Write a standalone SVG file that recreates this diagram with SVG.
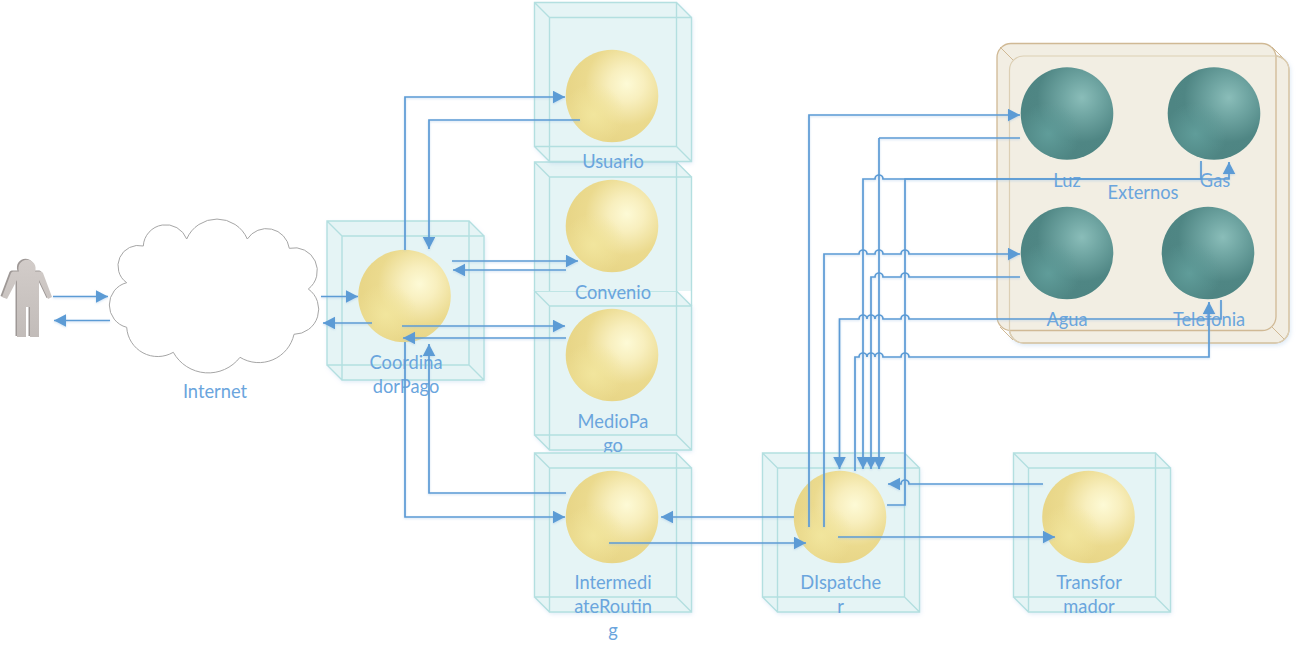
<svg xmlns="http://www.w3.org/2000/svg" xmlns:xlink="http://www.w3.org/1999/xlink" width="1296" height="652" viewBox="0 0 1296 652">
<style>
text{font-family:"Lato","Liberation Sans",sans-serif;font-size:18.3px;fill:#6AA5DD;text-anchor:middle}
.bf{fill:#E5F4F5;stroke:none}
.bl{fill:none;stroke:#B3DFE0;stroke-width:1.4}
.c{fill:none;stroke:#5B9BD5;stroke-width:1.7;marker-end:url(#a)}
.n{fill:none;stroke:#5B9BD5;stroke-width:1.7}
</style>
<defs>
<marker id="a" markerUnits="userSpaceOnUse" markerWidth="13" markerHeight="13" refX="12" refY="6.25" orient="auto"><path d="M0 0L12 6.25L0 12.5z" fill="#5B9BD5"/></marker>
<filter id="s" x="-10%" y="-10%" width="125%" height="125%"><feDropShadow dx="1" dy="2" stdDeviation="2" flood-color="#9CC2E5" flood-opacity=".35"/></filter>
<filter id="g" x="-5%" y="-5%" width="110%" height="110%"><feDropShadow dx="0" dy="1" stdDeviation="1" flood-color="#9CC2E5" flood-opacity=".5"/></filter>
<linearGradient id="p" x1="0" y1="0" x2="0" y2="1"><stop offset="0" stop-color="#D2CCC9"/><stop offset="1" stop-color="#C2BCB9"/></linearGradient>
<radialGradient id="y1" cx=".66" cy=".37" r=".62"><stop offset="0" stop-color="#FDFAD6"/><stop offset=".3" stop-color="#F8EFBE"/><stop offset=".72" stop-color="#EBDA8E"/><stop offset="1" stop-color="#E8D688"/></radialGradient>
<radialGradient id="y2" cx=".3" cy=".7" r=".34"><stop offset="0" stop-color="#F2E69E" stop-opacity=".95"/><stop offset="1" stop-color="#F2E69E" stop-opacity="0"/></radialGradient>
<radialGradient id="t1" cx=".66" cy=".33" r=".6"><stop offset="0" stop-color="#8ABDB9"/><stop offset=".35" stop-color="#6FA5A2"/><stop offset=".8" stop-color="#4F8684"/><stop offset="1" stop-color="#4E8583"/></radialGradient>
<radialGradient id="t2" cx=".3" cy=".72" r=".34"><stop offset="0" stop-color="#619E9B" stop-opacity=".95"/><stop offset="1" stop-color="#619E9B" stop-opacity="0"/></radialGradient>
<g id="ys"><circle r="46.3" fill="url(#y1)"/><circle r="46.3" fill="url(#y2)"/></g>
<g id="ts"><circle r="46.3" fill="url(#t1)"/><circle r="46.3" fill="url(#t2)"/></g>
<path id="man" d="M19 271.5a8.6 8.6 0 1 1 16 0H40Q42 271 43 273L52 297 48 299 39 280V337H30V307H26V337H17V280L7 299 2 297 11 273Q12 271 14 271.5z"/>
<g id="box">
<path class="bf" filter="url(#s)" d="M0 0H142L157 15V159H15L0 144z"/>
<path class="bl" d="M0 0H142V144H0zM15 15H157V159H15zM0 0L15 15M142 0L157 15M0 144L15 159M142 144L157 159"/>
</g>
</defs>

<g id="person">
<use xlink:href="#man" href="#man" x="-1.5" y="-1" fill="#9E9896"/>
<use xlink:href="#man" href="#man" fill="url(#p)"/>
</g>

<g id="internet">
<path fill="#fff" stroke="#A6A6A6" stroke-width="1" d="M126.7 282.7A20.5 20.5 0 0 1 143.3 246A22.5 22.5 0 0 1 186.7 239A33 33 0 0 1 247.3 239A23 23 0 0 1 289.3 248.3A23 23 0 0 1 308.3 289A25 25 0 0 1 294 334.3A36 36 0 0 1 240 357.3A40 40 0 0 1 173.3 352.3A31 31 0 0 1 126.7 327.3A23 23 0 0 1 126.7 282.7z"/>
<text x="215" y="397.5">Internet</text>
</g>

<g id="mediopago">
<use xlink:href="#box" href="#box" x="534.5" y="291"/>
<use xlink:href="#ys" href="#ys" x="612" y="355"/>
<text x="613" y="427.5">MedioPa</text>
<text x="613" y="451.8">go</text>
</g>

<g id="convenio">
<path class="bf" d="M534.5 162H676.5L691.5 177V291H534.5z"/>
<path class="bl" d="M534.5 291V162H676.5V291M549.5 291V177H691.5V306M534.5 162L549.5 177M676.5 162L691.5 177"/>
<use xlink:href="#ys" href="#ys" x="612" y="226"/>
<text x="613" y="298.5">Convenio</text>
</g>

<g id="usuario">
<use xlink:href="#box" href="#box" x="534.5" y="2.5"/>
<use xlink:href="#ys" href="#ys" x="612" y="96"/>
<text x="613" y="168">Usuario</text>
</g>

<g id="coordinadorpago">
<use xlink:href="#box" href="#box" x="327" y="221"/>
<use xlink:href="#ys" href="#ys" x="404.5" y="296"/>
<text x="406" y="368.5">Coordina</text>
<text x="406" y="392.5">dorPago</text>
</g>

<g id="intermediaterouting">
<use xlink:href="#box" href="#box" x="534.5" y="453"/>
<use xlink:href="#ys" href="#ys" x="612" y="517"/>
<text x="613" y="588.5">Intermedi</text>
<text x="613" y="612.5">ateRoutin</text>
<text x="613" y="637.3">g</text>
</g>

<g id="dispatcher">
<use xlink:href="#box" href="#box" x="762.5" y="453"/>
<use xlink:href="#ys" href="#ys" x="840" y="517"/>
<text x="840.7" y="588.5">DIspatche</text>
<text x="840.7" y="612.5">r</text>
</g>

<g id="transformador">
<use xlink:href="#box" href="#box" x="1013.5" y="453"/>
<use xlink:href="#ys" href="#ys" x="1088.5" y="517"/>
<text x="1089" y="588.5">Transfor</text>
<text x="1089" y="612.5">mador</text>
</g>

<g id="externos">
<rect x="1009.5" y="56" width="279.5" height="287" rx="14" fill="#F2EEE3" stroke="#D0B995" stroke-width="1.3" filter="url(#s)"/>
<rect x="997" y="43.5" width="279" height="287" rx="14" fill="#F2EEE3" stroke="#D0B995" stroke-width="1.3"/>
<path fill="none" stroke="#D0B995" stroke-width="1" d="M1000 47L1013 60M1272 47L1285 60M1000 327L1013 340M1272 327L1285 340"/>
<rect x="1009.5" y="56" width="279.5" height="287" rx="14" fill="none" stroke="#DCCFB4" stroke-width="1.2"/>
<text x="1143" y="199">Externos</text>
</g>
<g id="luz"><use xlink:href="#ts" href="#ts" x="1067" y="113.5"/><text x="1067" y="186.5">Luz</text></g>
<g id="gas"><use xlink:href="#ts" href="#ts" x="1214" y="113.5"/><text x="1215" y="186.5">Gas</text></g>
<g id="agua"><use xlink:href="#ts" href="#ts" x="1067" y="253"/><text x="1067" y="326">Agua</text></g>
<g id="telefonia"><use xlink:href="#ts" href="#ts" x="1208" y="253"/><text x="1209" y="326">Telefonia</text></g>

<g id="connectors" filter="url(#g)">
<path class="c" d="M53 296.5H108"/>
<path class="c" d="M110 320.5H54"/>
<path class="c" d="M321 296.5H358"/>
<path class="c" d="M372 323H323"/>
<path class="c" d="M405 250V97H565"/>
<path class="c" d="M580 120H429V249"/>
<path class="c" d="M452 261H578"/>
<path class="c" d="M566 270H453"/>
<path class="c" d="M402 326H565"/>
<path class="c" d="M566 338H403"/>
<path class="c" d="M405 342V517H565"/>
<path class="c" d="M566 493H429V344"/>
<path class="c" d="M609 543H806"/>
<path class="c" d="M794 517H661"/>
<path class="c" d="M838 537H1055"/>
<path class="c" d="M1043 484H909a4 4 0 0 0 -8 0H888"/>
<path class="c" d="M809 527V115H1020"/>
<path class="n" d="M1020 138H879"/>
<path class="c" d="M879 138V469"/>
<path class="c" d="M824 527V254H859a4 4 0 0 1 8 0H875a4 4 0 0 1 8 0H901a4 4 0 0 1 8 0H1020"/>
<path class="c" d="M1020 277H909a4 4 0 0 0 -8 0H883a4 4 0 0 0 -8 0H871V469"/>
<path class="c" d="M1201 161V179H883a4 4 0 0 0 -8 0H863V469"/>
<path class="c" d="M887 505H905V179H1229V162"/>
<path class="c" d="M1221 300V319H909a4 4 0 0 0 -8 0H883a4 4 0 0 0 -8 0a4 4 0 0 0 -8 0a4 4 0 0 0 -8 0H839.5V469"/>
<path class="c" d="M855 471V357H859a4 4 0 0 1 8 0a4 4 0 0 1 8 0a4 4 0 0 1 8 0H901a4 4 0 0 1 8 0H1209V302"/>
</g>
</svg>
